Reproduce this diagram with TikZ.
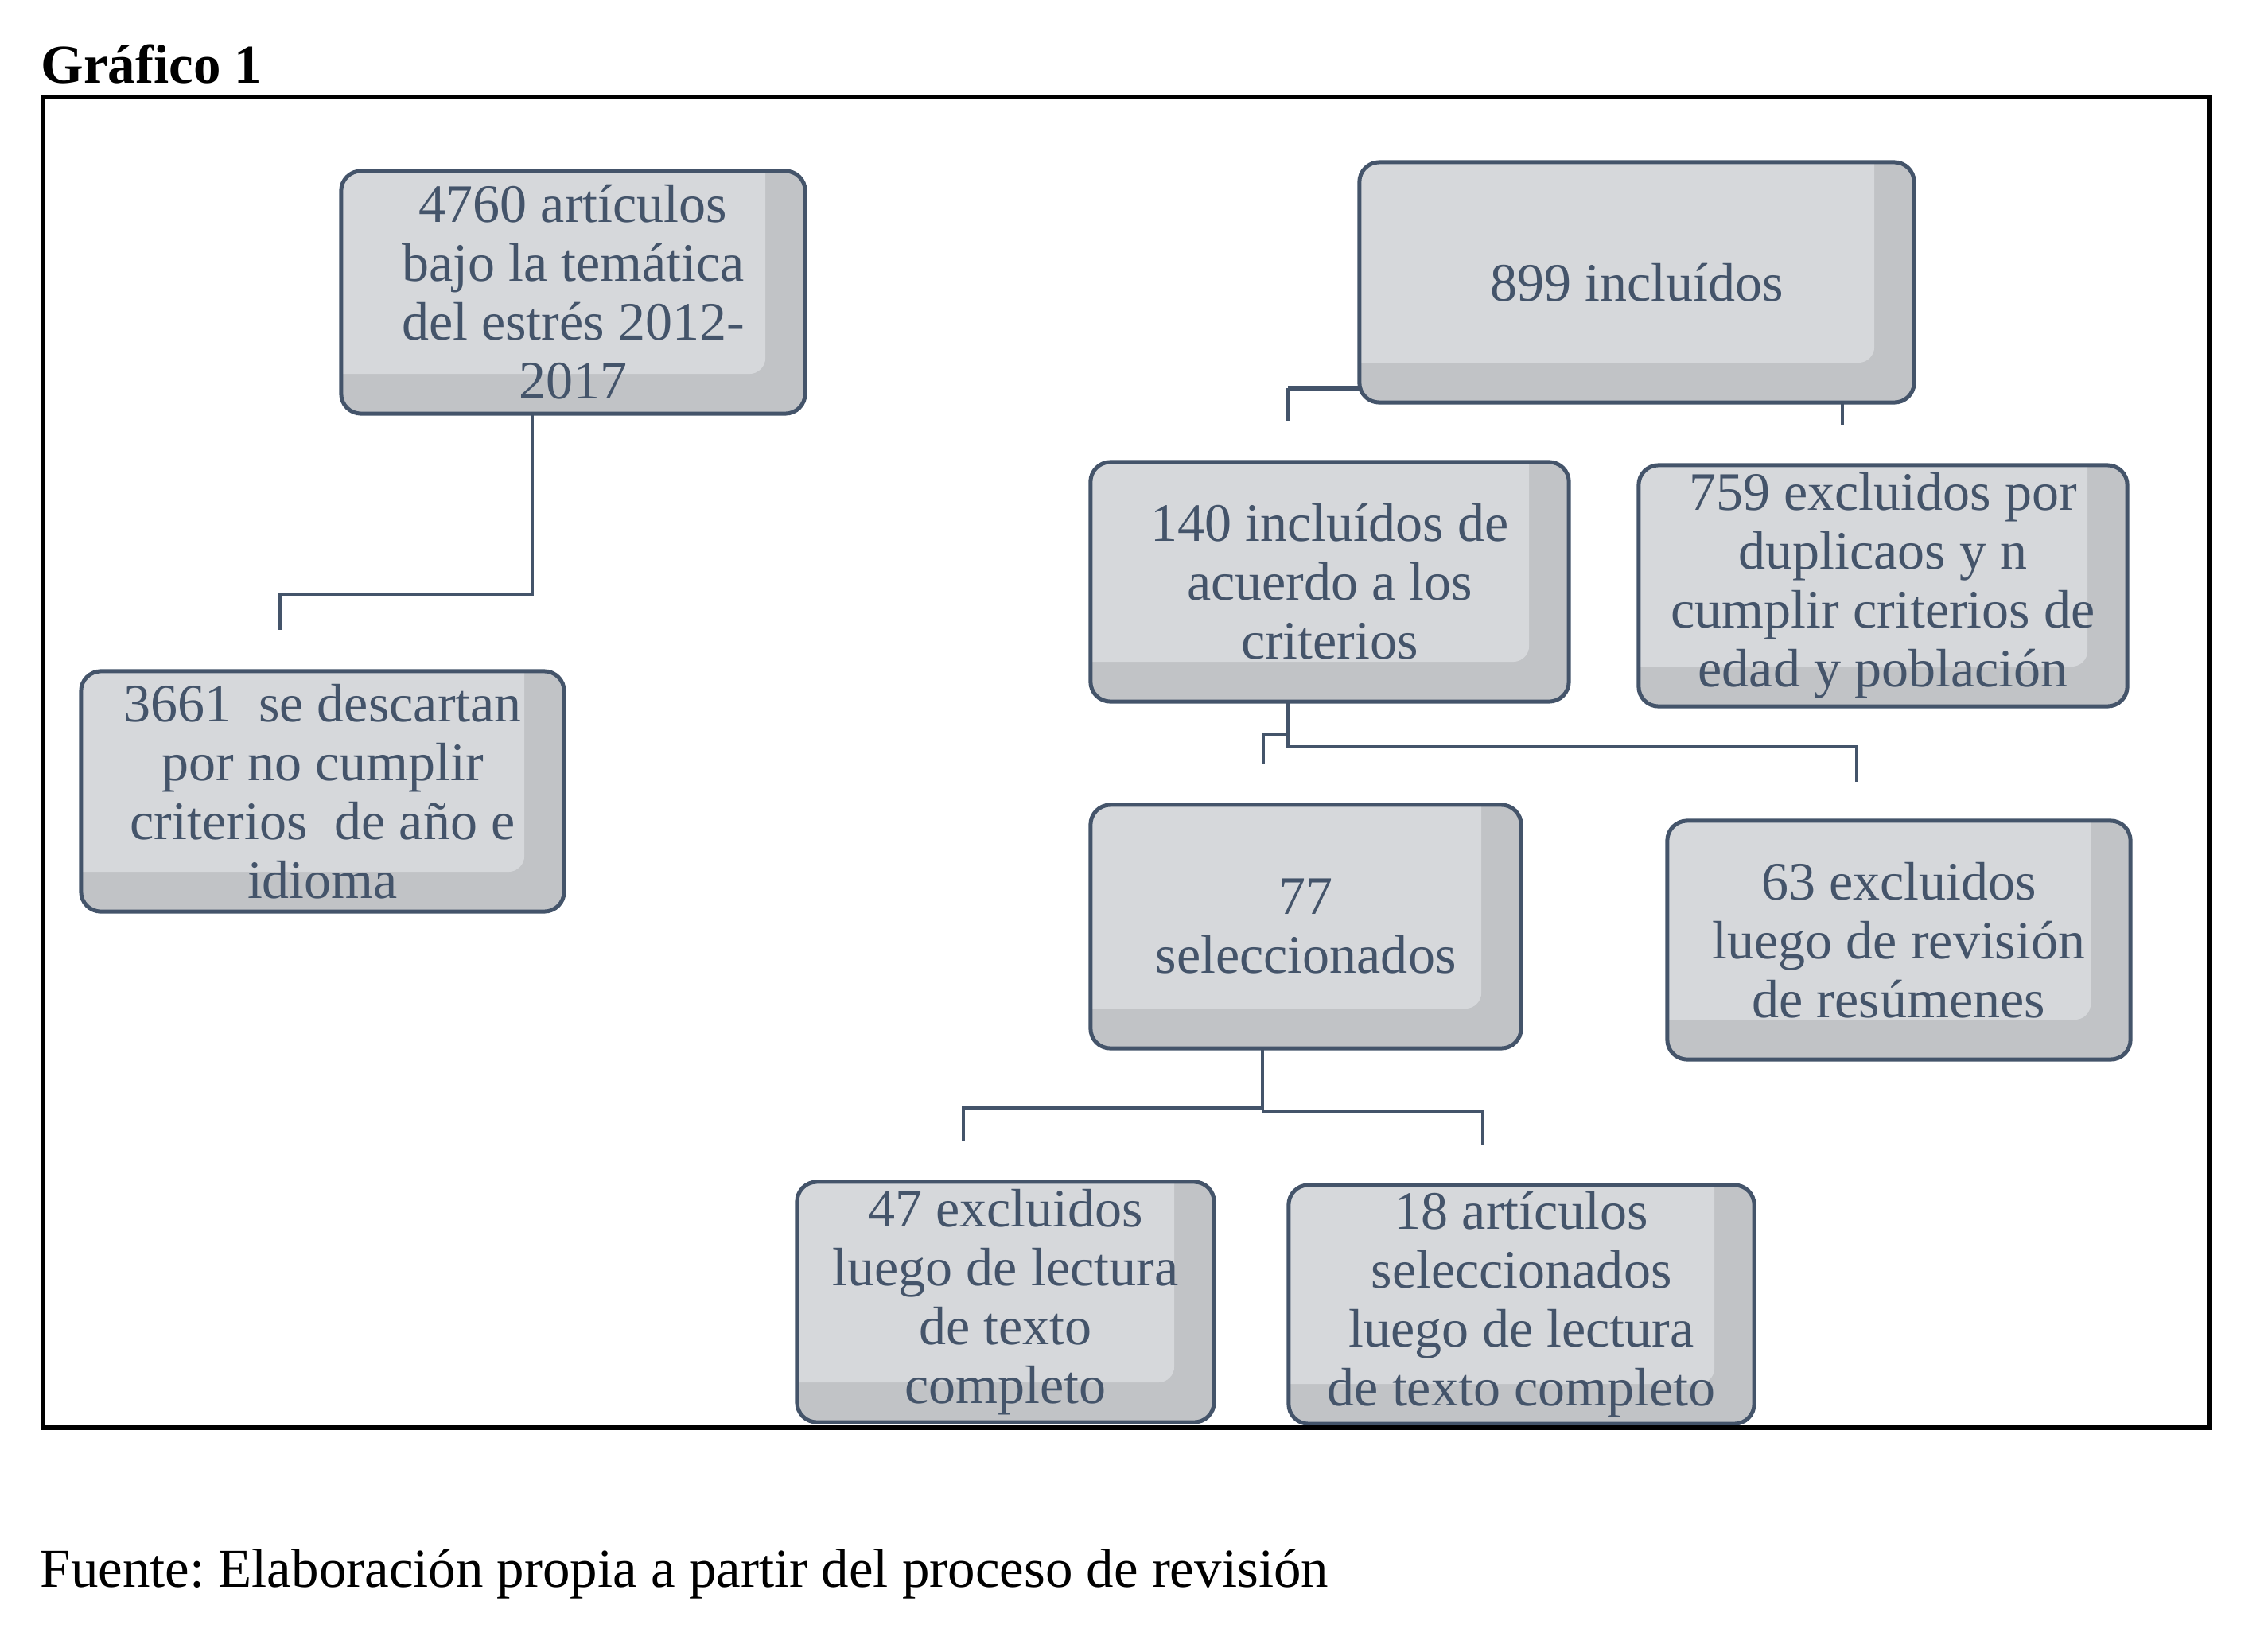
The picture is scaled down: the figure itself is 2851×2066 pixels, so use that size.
\documentclass[tikz,border=0pt]{standalone}
\usepackage{fontspec}
\setmainfont{Liberation Serif}
\usetikzlibrary{calc}
\frenchspacing
\definecolor{textblue}{HTML}{44546A}
\definecolor{lightc}{HTML}{D6D8DB}
\definecolor{bandc}{HTML}{C1C3C6}
\newcommand{\boxfont}{\fontsize{19.35pt}{21.05pt}\selectfont}
\newcommand{\capfont}{\fontsize{19.6pt}{22pt}\selectfont}
\begin{document}
\begin{tikzpicture}[x=0.01cm,y=-0.01cm,
  bevelbox/.style={draw=textblue, line width=0.05cm, rounded corners=0.25cm,
    inner sep=0pt, outer sep=0pt, align=center, text=textblue, font=\boxfont,
    path picture={
      \fill[bandc] (path picture bounding box.south west) rectangle (path picture bounding box.north east);
      \fill[lightc, rounded corners=0.2cm] ([shift={(-0.6cm,0.6cm)}]path picture bounding box.north west) rectangle ([shift={(-0.5cm,0.5cm)}]path picture bounding box.south east);
    }},
  conn/.style={draw=textblue, line width=0.045cm},
  thickconn/.style={draw=textblue, line width=0.07cm}]
\useasboundingbox (0,0) rectangle (2851,2066);

% title and caption
\node[anchor=base west, inner sep=0pt, font=\capfont\bfseries] (title) at (51,104) {Gráfico 1};
\node[anchor=base west, inner sep=0pt, font=\capfont] (caption) at (50,1995) {Fuente: Elaboración propia a partir del proceso de revisión};

% boxes
\node[bevelbox, minimum width=5.83cm, minimum height=3.05cm] (A) at (720.5,367.5)
  {4760 artículos\\bajo la temática\\del estrés 2012-\\2017};
\node[bevelbox, minimum width=6.07cm, minimum height=3.02cm] (B) at (405.5,995)
  {3661\ \ se descartan\\por no cumplir\\criterios\ \ de año e\\idioma};
\node[bevelbox, minimum width=6.97cm, minimum height=3.02cm] (C) at (2057.5,355)
  {899 incluídos};
\node[bevelbox, minimum width=6.01cm, minimum height=3.01cm] (D) at (1671.5,731.5)
  {140 incluídos de\\acuerdo a los\\criterios};
\node[bevelbox, minimum width=6.14cm, minimum height=3.03cm] (E) at (2367,736.5)
  {759 excluidos por\\duplicaos y n\\cumplir criterios de\\edad y población};
\node[bevelbox, minimum width=5.41cm, minimum height=3.06cm] (F) at (1641.5,1165)
  {77\\seleccionados};
\node[bevelbox, minimum width=5.82cm, minimum height=3.00cm] (G) at (2387,1182)
  {63 excluidos\\luego de revisión\\de resúmenes};
\node[bevelbox, minimum width=5.24cm, minimum height=3.02cm] (H) at (1264,1637)
  {47 excluidos\\luego de lectura\\de texto\\completo};
\node[bevelbox, minimum width=5.85cm, minimum height=3.00cm] (I) at (1912.5,1640)
  {18 artículos\\seleccionados\\luego de lectura\\de texto completo};

% connector coordinates
\coordinate (ab1) at (669,747);
\coordinate (ab2) at (352,792);
\coordinate (c1) at (1619,488);
\coordinate (c1e) at (1619,529);
\coordinate (c2e) at (2316,534);
\coordinate (d1) at (1619,939);
\coordinate (d2e) at (2334,983);
\coordinate (d3) at (1619,923);
\coordinate (d3e) at (1588,960);
\coordinate (f1) at (1587,1393);
\coordinate (f2) at (1587,1398);
\coordinate (fL) at (1211,1435);
\coordinate (fR) at (1864,1440);

% connectors
\draw[conn] (A.south -| ab1) -- (ab1) -| (ab2);
\draw[thickconn] (C.west |- c1) -- (c1);
\draw[conn] (c1) -- (c1e);
\draw[conn] (C.south -| c2e) -- (c2e);
\draw[conn] (D.south -| d1) -- (d1) -| (d2e);
\draw[conn] (d3) -| (d3e);
\draw[conn] (F.south -| f1) -- (f1) -| (fL);
\draw[conn] (f2) -| (fR);

% frame
\draw[line width=0.06cm] (54,122) rectangle (2777,1795);
\end{tikzpicture}
\end{document}
